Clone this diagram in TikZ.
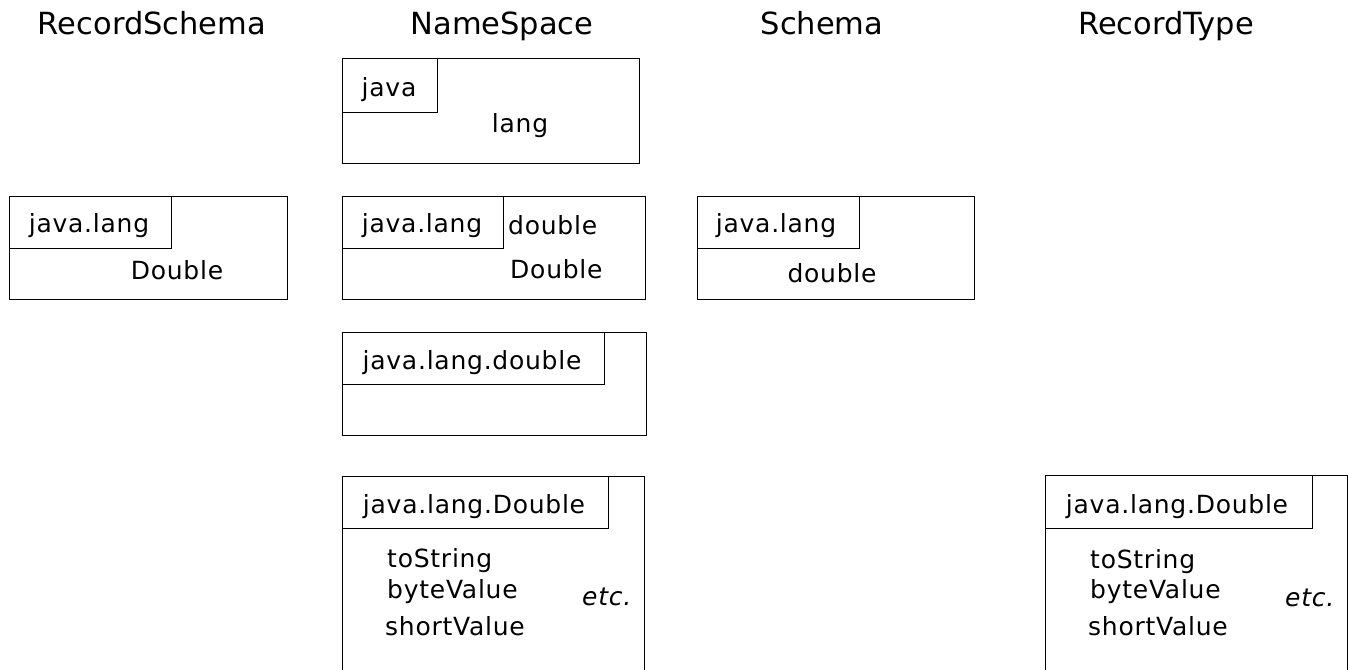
\documentclass[tikz,border=0pt]{standalone}
\usepackage{fontspec}
\setmainfont{DejaVu Sans}[LetterSpace=3]
\newfontfamily\titlefont{DejaVu Sans}
\begin{document}
\begin{tikzpicture}[x=1pt,y=-1pt,
  box/.style={draw=black,line width=1pt},
  lbl/.style={inner sep=0pt,anchor=base,font=\fontsize{25}{30}\selectfont},
  lblw/.style={lbl,anchor=base west},
  ttl/.style={inner sep=0pt,anchor=base,font=\titlefont\fontsize{30.5}{36}\selectfont}]
\useasboundingbox (0,0) rectangle (1348,669);
% titles
\node[ttl] (t1) at (152,35) {RecordSchema};
\node[ttl] (t2) at (502,35) {NameSpace};
\node[ttl] (t3) at (822,35) {Schema};
\node[ttl] (t4) at (1166,35) {RecordType};
% box A (NameSpace java / lang)
\draw[box] (342,59) rectangle (639,163);
\draw[box] (342,59) rectangle (437,112);
\node[lbl] (a1) at (389,96) {java};
\node[lbl] (a2) at (520,132) {lang};
% box B (RecordSchema)
\draw[box] (9,196) rectangle (287,299);
\draw[box] (9,196) rectangle (171,248);
\node[lbl] (b1) at (89,232) {java.lang};
\node[lbl] (b2) at (177,279) {Double};
% box C (NameSpace java.lang)
\draw[box] (342,196) rectangle (645,299);
\draw[box] (342,196) rectangle (503,248);
\node[lbl] (c1) at (422,232) {java.lang};
\node[lblw] (c2) at (508,234) {double};
\node[lblw] (c3) at (510,278) {Double};
% box D (Schema)
\draw[box] (697,196) rectangle (974,299);
\draw[box] (697,196) rectangle (859,248);
\node[lbl] (d1) at (776,232) {java.lang};
\node[lbl] (d2) at (832,282) {double};
% box E (NameSpace java.lang.double)
\draw[box] (342,332) rectangle (646,435);
\draw[box] (342,332) rectangle (604,384);
\node[lbl] (e1) at (472,369) {java.lang.double};
% box F (NameSpace java.lang.Double)
\draw[box] (342,690) -- (342,476) -- (644,476) -- (644,690);
\draw[box] (342,476) rectangle (608,528);
\node[lbl] (f1) at (474,513) {java.lang.Double};
\node[lblw] (f2) at (387,567) {toString};
\node[lblw] (f3) at (387,598) {byteValue};
\node[lblw] (f4) at (385,635) {shortValue};
\node[lblw] (f5) at (582,605) {\itshape etc.};
% box G (RecordType)
\draw[box] (1045,690) -- (1045,475) -- (1347,475) -- (1347,690);
\draw[box] (1045,475) rectangle (1312,528);
\node[lbl] (g1) at (1177,513) {java.lang.Double};
\node[lblw] (g2) at (1090,568) {toString};
\node[lblw] (g3) at (1090,598) {byteValue};
\node[lblw] (g4) at (1088,635) {shortValue};
\node[lblw] (g5) at (1285,606) {\itshape etc.};
\end{tikzpicture}
\end{document}
